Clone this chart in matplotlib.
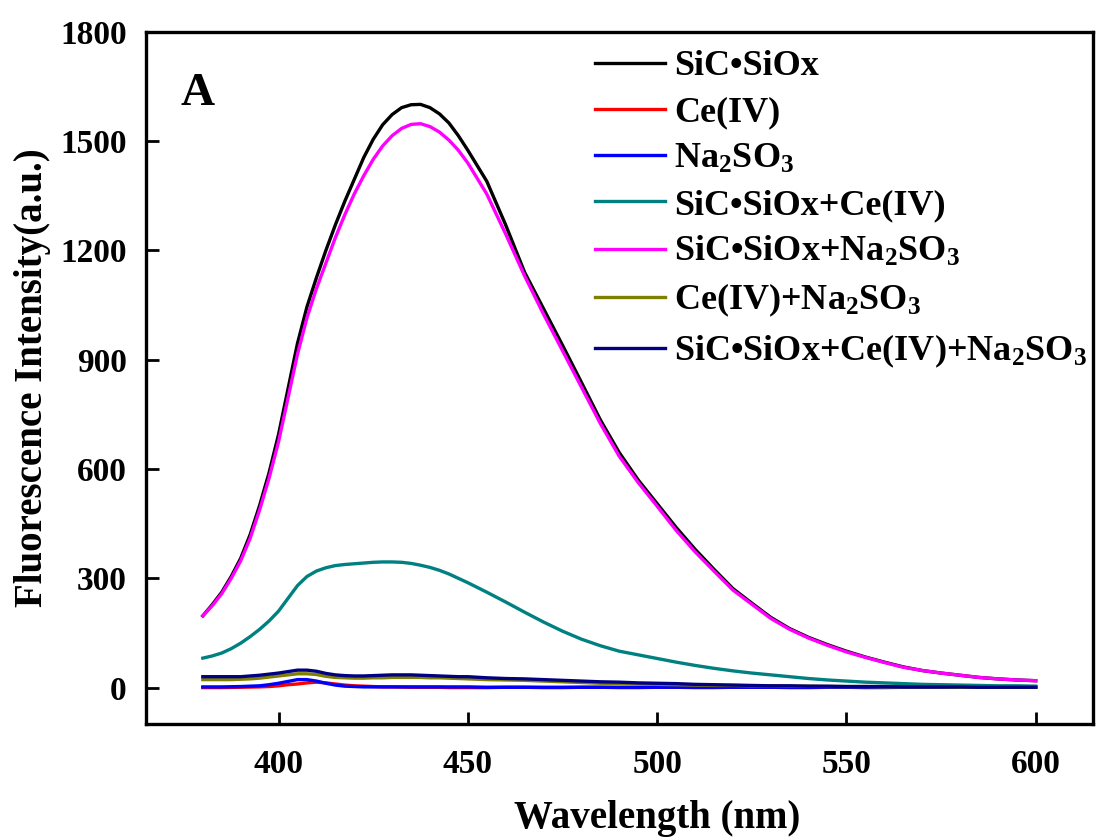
import matplotlib
matplotlib.use('Agg')
import matplotlib.pyplot as plt
import numpy as np

plt.rcParams['font.family'] = ['Liberation Serif', 'DejaVu Serif']
plt.rcParams['font.weight'] = 'bold'
plt.rcParams['mathtext.fontset'] = 'custom'
plt.rcParams['mathtext.rm'] = 'Liberation Serif:bold'
plt.rcParams['mathtext.it'] = 'Liberation Serif:bold'
plt.rcParams['mathtext.bf'] = 'Liberation Serif:bold'

# wavelength grid (nm): finer on the rising side
wl = np.concatenate([np.arange(380, 450.1, 2.5), np.arange(455, 600.1, 5)])

sic = [197, 228, 262, 305, 355, 420, 500, 590, 695, 820, 945, 1045, 1125,
       1200, 1270, 1335, 1395, 1455, 1505, 1545, 1573, 1592, 1600, 1601, 1592,
       1575, 1550, 1515, 1475,
       1390, 1270, 1140, 1040, 940, 838, 735, 645, 570, 505, 440, 380, 325,
       272, 232, 193, 162, 138, 118, 100, 84, 70, 57, 47, 40, 34, 28, 24, 21,
       19]
ce = [0, 0, 0, 0.5, 1, 1.5, 2, 3, 5, 8, 10, 13, 15, 13, 10, 7, 5, 4, 3, 2, 2,
      1.5, 1, 1, 1, 1, 0, 0, 0,
      0, 1, 1, 0, 0, 1, 1, 0, 0, 1, 1, 0, 0, 1, 1, 1, 0, 0, 1, 1, 0, 0, 1, 1,
      1, 1, 2, 2, 2, 2]
na = [2, 2, 2, 2.5, 3, 4, 5, 8, 12, 17, 22, 22, 18, 12, 7, 4, 3, 2, 2, 2, 2,
      2, 2, 2, 2, 2, 2, 2, 2,
      1, 1, 1, 1, 1, 1, 1, 1, 1, 1, 1, 1, 1, 1, 1, 1, 1, 1, 1, 1, 1, 1, 1, 1,
      1, 1, 1, 1, 1, 1]
sic_ce = [81, 87, 95, 107, 122, 140, 160, 183, 210, 245, 280, 305, 320, 329,
          335, 338, 340, 342, 344, 345, 345, 344, 341, 336, 330, 322, 312, 300,
          288,
          262, 235, 207, 180, 155, 133, 115, 100, 90, 80, 70, 61, 53, 46, 40,
          35, 30, 25, 21, 18, 15, 13, 11, 9, 8, 7, 6, 5, 5, 4]
sic_na = [197, 225, 258, 300, 348, 410, 488, 575, 675, 795, 915, 1015, 1095,
          1165, 1235, 1298, 1355, 1405, 1450, 1487, 1515, 1535, 1546, 1548,
          1540, 1525, 1503, 1475, 1440,
          1355, 1245, 1130, 1025, 925, 825, 725, 635, 563, 498, 432, 373, 320,
          268, 229, 190, 160, 136, 116, 98, 83, 69, 56, 47, 40, 34, 28, 24,
          21, 19]
ce_na = [22, 22, 22, 22, 23, 24, 26, 29, 32, 35, 38, 38, 36, 31, 28, 27, 26,
         26, 27, 27, 28, 28, 28, 28, 27, 27, 26, 25, 24,
         22, 21, 20, 18, 16, 14, 12, 11, 10, 9, 8, 7, 6, 6, 5, 5, 4, 4, 3, 3,
         3, 2, 2, 2, 2, 1, 1, 1, 1, 1]
all3 = [30, 30, 30, 30, 30, 32, 34, 37, 40, 44, 48, 48, 45, 39, 35, 33, 32,
        32, 33, 34, 35, 35, 35, 34, 33, 32, 31, 30, 30,
        27, 25, 24, 22, 20, 18, 16, 15, 13, 12, 11, 9, 8, 7, 6, 5, 5, 4, 4, 3,
        3, 3, 2, 2, 2, 2, 1, 1, 1, 1]

series = [sic, ce, na, sic_ce, sic_na, ce_na, all3]
labels = ['SiC•SiOx', 'Ce(IV)', 'Na$_2$SO$_3$', 'SiC•SiOx+Ce(IV)',
          'SiC•SiOx+Na$_2$SO$_3$', 'Ce(IV)+Na$_2$SO$_3$',
          'SiC•SiOx+Ce(IV)+Na$_2$SO$_3$']
colors = ['#000000', '#ff0000', '#0000ff', '#008080', '#ff00ff', '#808000',
          '#000080']

fig = plt.figure(figsize=(10.98, 8.39), dpi=100)
ax = fig.add_axes([0.133, 0.137, 0.862, 0.825])

for y, lab, c in zip(series, labels, colors):
    ax.plot(wl, y, color=c, lw=2.4, label=lab)

ax.set_xlim(365, 615)
ax.set_ylim(-100, 1800)
ax.set_xticks([400, 450, 500, 550, 600])
ax.set_yticks([0, 300, 600, 900, 1200, 1500, 1800])
ax.tick_params(direction='in', length=9, width=2, labelsize=24, pad=14,
               top=False, right=False)
ax.tick_params(axis='x', pad=18)
for s in ax.spines.values():
    s.set_linewidth(2.4)

ax.set_xlabel('Wavelength (nm)', fontsize=28, fontweight='bold', labelpad=12)
ax.xaxis.set_label_coords(0.54, -0.11)
ax.set_ylabel('Fluorescence Intensity(a.u.)', fontsize=28, fontweight='bold')
ax.yaxis.set_label_coords(-0.1, 0.5)
ax.text(0.036, 0.91, 'A', transform=ax.transAxes, fontsize=34,
        fontweight='bold', va='center')

leg = ax.legend(loc='upper left', bbox_to_anchor=(0.455, 1.0), frameon=False,
                fontsize=26, handlelength=1.95, handletextpad=0.25,
                labelspacing=0.36, borderaxespad=0.1)

fig.savefig('out.png', dpi=100)
